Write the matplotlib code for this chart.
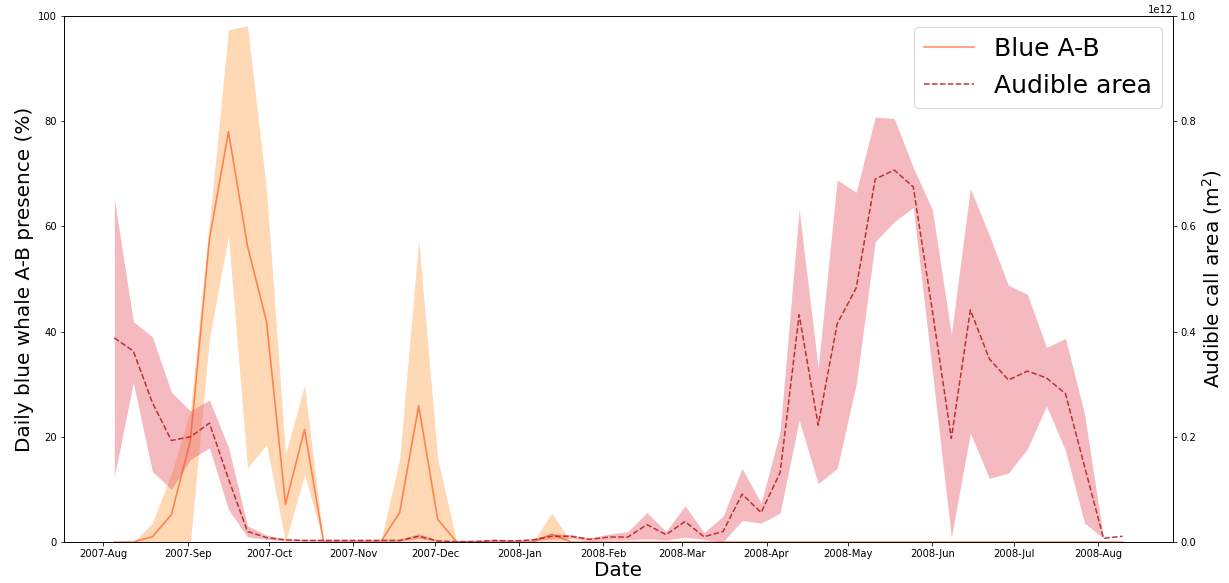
import matplotlib
matplotlib.use("Agg")
import matplotlib.pyplot as plt
import matplotlib.dates as mdates
import pandas as pd
import numpy as np

dates = pd.date_range("2007-08-05", periods=54, freq="7D")

blue_ab = [0, 0, 1, 5.2, 19.3, 57.6, 78, 56.3, 41.9, 7.2, 21.4, 0,
           0, 0, 0, 5.6, 25.9, 4.3, 0, 0, 0, 0, 0, 1.5, 0, 0, 0, 0,
           0, 0, 0, 0, 0, 0, 0, 0, 0, 0, 0, 0, 0, 0, 0, 0, 0, 0, 0, 0,
           0, 0, 0, 0, 0, 0]
blue_ab_upper = [0, 0, 3.6, 13, 25, 60.6, 97.4, 98.1, 67, 16.7, 29.8, 0,
                 0, 0, 0, 15.8, 57.5, 15.8, 0, 0, 0, 0, 0, 5.5, 0, 0, 0, 0,
                 0, 0, 0, 0, 0, 0, 0, 0, 0, 0, 0, 0, 0, 0, 0, 0, 0, 0, 0, 0,
                 0, 0, 0, 0, 0, 0]
blue_ab_lower = [0, 0, 0, 0, 0, 38.6, 58.3, 14.1, 18.5, 0, 12.8, 0,
                 0, 0, 0, 0, 0, 0, 0, 0, 0, 0, 0, 0, 0, 0, 0, 0,
                 0, 0, 0, 0, 0, 0, 0, 0, 0, 0, 0, 0, 0, 0, 0, 0, 0, 0, 0, 0,
                 0, 0, 0, 0, 0, 0]

area = [0.388, 0.363, 0.265, 0.193, 0.200, 0.226, 0.120, 0.020, 0.0085, 0.004,
        0.003, 0.003, 0.003, 0.003, 0.003, 0.003, 0.011, 0.002, 0.0005, 0.001,
        0.003, 0.002, 0.004, 0.011, 0.011, 0.005, 0.0095, 0.0095, 0.033, 0.014,
        0.039, 0.010, 0.020, 0.091, 0.056, 0.132, 0.432, 0.222, 0.415, 0.483,
        0.690, 0.707, 0.675, 0.440, 0.197, 0.441, 0.348, 0.308, 0.325, 0.312,
        0.282, 0.144, 0.007, 0.011]
area_upper = [0.653, 0.419, 0.390, 0.285, 0.249, 0.270, 0.180, 0.031, 0.013, 0.006,
              0.005, 0.005, 0.005, 0.005, 0.005, 0.005, 0.016, 0.004, 0.002, 0.003,
              0.005, 0.004, 0.006, 0.016, 0.014, 0.008, 0.015, 0.020, 0.056, 0.020,
              0.069, 0.018, 0.049, 0.140, 0.074, 0.210, 0.632, 0.331, 0.688, 0.665,
              0.808, 0.805, 0.712, 0.632, 0.395, 0.672, 0.583, 0.488, 0.471, 0.370,
              0.387, 0.244, 0.007, 0.011]
area_lower = [0.124, 0.303, 0.134, 0.100, 0.157, 0.179, 0.062, 0.0098, 0.005, 0.002,
              0.001, 0.001, 0.001, 0.001, 0.001, 0.001, 0.007, 0.0005, 0.0, 0.0,
              0.001, 0.001, 0.002, 0.006, 0.007, 0.002, 0.004, 0.004, 0.006, 0.004,
              0.009, 0.005, 0.0, 0.041, 0.036, 0.055, 0.232, 0.111, 0.140, 0.300,
              0.571, 0.609, 0.636, 0.325, 0.009, 0.207, 0.121, 0.131, 0.177, 0.259,
              0.174, 0.036, 0.007, 0.011]

scale = 1e12
area_v = np.array(area) * scale
area_up = np.array(area_upper) * scale
area_lo = np.array(area_lower) * scale

fig = plt.figure(figsize=(1229 / 72, 583 / 72), dpi=72)
ax1 = fig.add_axes([0.052, 0.0703, 0.9024, 0.9023])
ax2 = ax1.twinx()

ax1.fill_between(dates, blue_ab_lower, blue_ab_upper, color="tab:orange", alpha=0.3, linewidth=0)
l1, = ax1.plot(dates, blue_ab, color="orangered", alpha=0.6, linewidth=1.6, label="Blue A-B")

ax2.fill_between(dates, area_lo, area_up, color=(0.9, 0.33, 0.38), alpha=0.4, linewidth=0)
l2, = ax2.plot(dates, area_v, color="firebrick", linestyle="--", linewidth=1.5, alpha=0.9, label="Audible area")

ax1.set_ylim(0, 100)
ax2.set_ylim(0, 1e12)
ax1.xaxis.set_major_locator(mdates.MonthLocator())
ax1.xaxis.set_major_formatter(mdates.DateFormatter("%Y-%b"))
ax1.tick_params(labelsize=10)
ax2.tick_params(labelsize=10)
ax2.yaxis.get_offset_text().set_fontsize(10)

ax1.set_xlabel("Date", fontsize=20, labelpad=2)
ax1.set_ylabel("Daily blue whale A-B presence (%)", fontsize=20)
ax2.set_ylabel("Audible call area (m$^2$)", fontsize=20)

ax2.legend(handles=[l1, l2], loc="upper right", fontsize=25, borderaxespad=0.45)

fig.savefig("out.png", dpi=72)
